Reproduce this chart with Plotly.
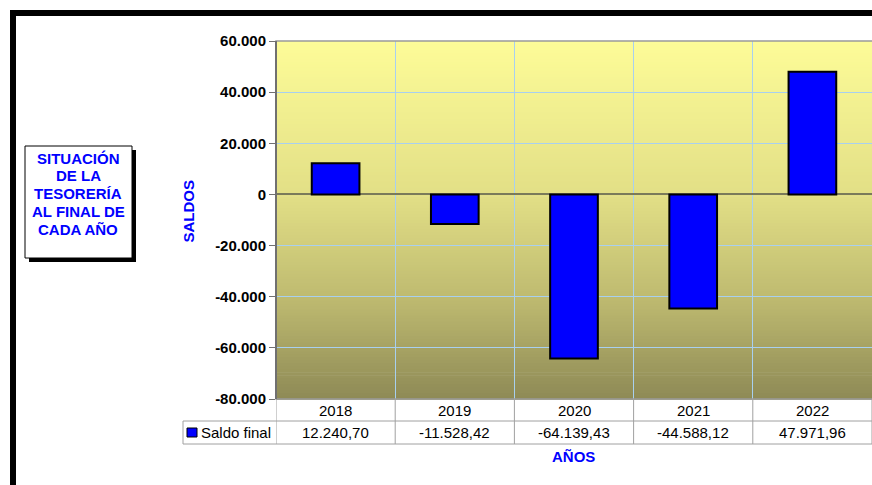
import plotly.graph_objects as go

# datos del gráfico
anios = ['2018', '2019', '2020', '2021', '2022']
saldo_final = [12240.70, -11528.42, -64139.43, -44588.12, 47971.96]
y_ticks = [60000, 40000, 20000, 0, -20000, -40000, -60000, -80000]

W, H = 872, 485
L, R, T, B = 276, 0, 41, 86
PW, PH = W - L - R, H - T - B
FONT = 'Liberation Sans, Arial, sans-serif'
AZUL = '#0000FF'


def px(x):
    return (x - L) / PW


def py(y):
    return (H - B - y) / PH


def es(v, dec=0):
    # formato español: miles con punto, decimales con coma
    s = f'{v:,.{dec}f}'
    return s.replace(',', '#').replace('.', ',').replace('#', '.')


fig = go.Figure()

fig.add_trace(go.Bar(x=anios, y=saldo_final, width=0.4,
                     marker=dict(color=AZUL, line=dict(color='black', width=2)),
                     name='Saldo final', showlegend=False))

shapes = []

# fondo degradado del área de trazado (amarillo claro -> oliva)
stops = [(0.0, (253, 252, 152)), (0.43, (226, 223, 134)),
         (0.72, (190, 186, 112)), (1.0, (142, 138, 86))]


def color_at(f):
    for (f0, c0), (f1, c1) in zip(stops[:-1], stops[1:]):
        if f <= f1:
            t = (f - f0) / (f1 - f0)
            return 'rgb(%d,%d,%d)' % tuple(round(a + (b - a) * t) for a, b in zip(c0, c1))
    return 'rgb(%d,%d,%d)' % stops[-1][1]


n = 120
for i in range(n):
    f = (i + 0.5) / n
    shapes.append(dict(type='rect', xref='paper', yref='paper',
                       x0=0, x1=1, y0=1 - (i + 1) / n - 0.002, y1=1 - i / n,
                       fillcolor=color_at(f), line=dict(width=0), layer='below'))

# borde del área de trazado
shapes.append(dict(type='rect', xref='paper', yref='paper', x0=0, x1=1.01, y0=0, y1=1,
                   line=dict(color='#9a9a9a', width=1.5)))

# tabla de datos
gris = '#a0a0a0'
y_fila = py(421)
y_fin = py(444)
shapes.append(dict(type='line', xref='paper', yref='paper', x0=px(183), x1=1.01,
                   y0=y_fila, y1=y_fila, line=dict(color=gris, width=1)))
shapes.append(dict(type='line', xref='paper', yref='paper', x0=px(183), x1=1.01,
                   y0=y_fin, y1=y_fin, line=dict(color=gris, width=1)))
shapes.append(dict(type='line', xref='paper', yref='paper', x0=px(183), x1=px(183),
                   y0=y_fila, y1=y_fin, line=dict(color=gris, width=1)))
for i in range(len(anios) + 1):
    shapes.append(dict(type='line', xref='x', yref='paper', x0=i - 0.5, x1=i - 0.5,
                       y0=0, y1=y_fin, line=dict(color=gris, width=1)))
# eje izquierdo
shapes.append(dict(type='line', xref='paper', yref='paper', x0=0, x1=0, y0=0, y1=1,
                   line=dict(color='#707070', width=2)))
# clave de la leyenda
shapes.append(dict(type='rect', xref='paper', yref='paper', x0=px(187), x1=px(197),
                   y0=py(437), y1=py(428), fillcolor=AZUL, line=dict(color='black', width=1)))

# marco negro exterior
shapes.append(dict(type='rect', xref='paper', yref='paper', x0=px(13), x1=px(960),
                   y0=py(600), y1=py(13), line=dict(color='black', width=6)))

# recuadro del título con sombra
shapes.append(dict(type='rect', xref='paper', yref='paper', x0=px(29), x1=px(136),
                   y0=py(262), y1=py(150), fillcolor='black', line=dict(width=0)))
shapes.append(dict(type='rect', xref='paper', yref='paper', x0=px(25), x1=px(132),
                   y0=py(258), y1=py(146), fillcolor='white', line=dict(color='black', width=1)))

annotations = []


def texto(x, y, t, xref='paper', **font):
    f = dict(family=FONT, size=15, color='black')
    f.update(font)
    return dict(x=x, y=y, xref=xref, yref='paper', text=t, showarrow=False,
                xanchor='center', yanchor='middle', font=f)


for i, a in enumerate(anios):
    annotations.append(texto(i, py(410.5), a, xref='x'))
for i, v in enumerate(saldo_final):
    annotations.append(texto(i, py(432.5), es(v, 2), xref='x'))
leyenda = texto(px(199), py(432.5), 'Saldo final')
leyenda['xanchor'] = 'left'
annotations.append(leyenda)

titulo = ['SITUACIÓN', 'DE LA', 'TESORERÍA', 'AL FINAL DE', 'CADA AÑO']
for k, linea in enumerate(titulo):
    annotations.append(texto(px(78), py(158 + 17.9 * k), linea, color=AZUL, weight='bold'))

saldos = texto(px(188), py(211.5), 'SALDOS', color=AZUL, weight='bold')
saldos['textangle'] = -90
annotations.append(saldos)
annotations.append(texto(px(573.5), py(456), 'AÑOS', color=AZUL, weight='bold'))

fig.update_layout(
    width=W, height=H,
    margin=dict(l=L, r=R, t=T, b=B),
    paper_bgcolor='white', plot_bgcolor='rgba(0,0,0,0)',
    shapes=shapes, annotations=annotations,
)
fig.update_xaxes(type='category', range=[-0.5, len(anios) - 0.5], tickson='boundaries',
                 showgrid=True, gridcolor='#a8d0f0', gridwidth=1,
                 showticklabels=False, ticks='', showline=False, zeroline=False)
fig.update_yaxes(range=[-80000, 60000], tickvals=y_ticks,
                 ticktext=[es(v) for v in y_ticks],
                 tickfont=dict(family=FONT, size=15, color='black', weight='bold'),
                 ticks='outside', ticklen=6, tickcolor='#707070', tickwidth=1,
                 showgrid=True, gridcolor='#a8d0f0', gridwidth=1,
                 zeroline=True, zerolinecolor='#7a7a5a', zerolinewidth=2,
                 showline=False)

fig.write_html('out.html', config={'displayModeBar': False},
               post_script="document.body.style.margin='0';document.body.style.overflow='hidden';")
